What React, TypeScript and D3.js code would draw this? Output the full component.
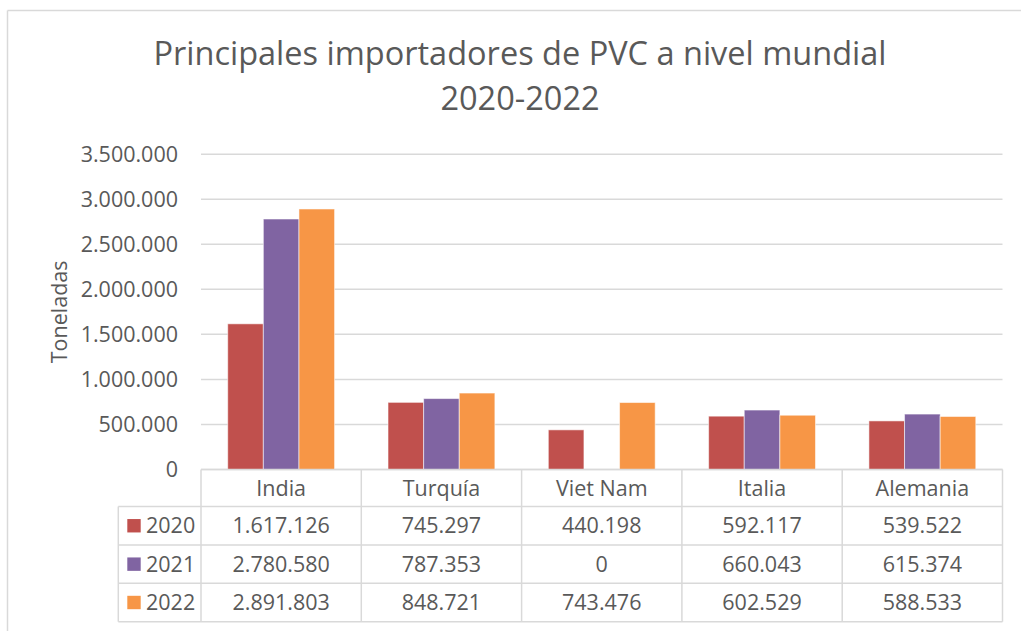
import React from "react";
import * as d3 from "d3";

const categories = ["India", "Turquía", "Viet Nam", "Italia", "Alemania"];
const seriesNames = ["2020", "2021", "2022"];
const values2020 = [1617126, 745297, 440198, 592117, 539522];
const values2021 = [2780580, 787353, 0, 660043, 615374];
const values2022 = [2891803, 848721, 743476, 602529, 588533];
const yTicks = [0, 500000, 1000000, 1500000, 2000000, 2500000, 3000000, 3500000];
const colors = ["#C0504D", "#8064A2", "#F79646"];
const titleLines = ["Principales importadores de PVC a nivel mundial", "2020-2022"];
const yTitle = "Toneladas";

const series = [values2020, values2021, values2022];

const locale = d3.formatLocale({ decimal: ",", thousands: ".", grouping: [3], currency: ["", ""] });
const fmt = locale.format(",d");

export default function App() {
  const W = 1021, H = 631;
  const plotL = 201, plotR = 1002.5, plotT = 154.2, plotB = 469.5;
  const font = "'Open Sans', sans-serif";
  const textColor = "#595959";
  const gridColor = "#d9d9d9";

  const y = d3.scaleLinear().domain([0, 3500000]).range([plotB, plotT]);
  const x0 = d3.scaleBand<string>().domain(categories).range([plotL, plotR]);
  const barW = x0.bandwidth() / (3 + 1.5);
  const x1 = d3.scaleBand<string>().domain(seriesNames).range([0, barW * 3]);

  const rowTops = [plotB, 506.5, 545, 583.3, 621.7];
  const fontSize = 21.5;

  return (
    <svg width={W} height={H} style={{ position: "absolute", left: 0, top: 0, background: "#fff" }}>
      <rect x={0} y={0} width={W} height={H} fill="#fff" />
      {/* outer chart border */}
      <line x1={7.5} y1={10.5} x2={W} y2={10.5} stroke={gridColor} strokeWidth={1.5} />
      <line x1={7.5} y1={10.5} x2={7.5} y2={H} stroke={gridColor} strokeWidth={1.5} />

      {/* title */}
      {titleLines.map((t, i) => (
        <text key={i} x={520} y={65 + i * 45} textAnchor="middle" fontFamily={font} fontSize={32.5} fill={textColor}>
          {t}
        </text>
      ))}

      {/* gridlines */}
      {yTicks.map((t) => (
        <line key={t} x1={plotL} x2={plotR} y1={y(t)} y2={y(t)} stroke={gridColor} strokeWidth={1.5} />
      ))}
      {/* y tick labels */}
      {yTicks.map((t) => (
        <text key={"l" + t} x={178} y={y(t)} dy="0.36em" textAnchor="end" fontFamily={font} fontSize={fontSize} fill={textColor}>
          {fmt(t)}
        </text>
      ))}
      {/* y title */}
      <text transform={`translate(67,${(plotT + plotB) / 2}) rotate(-90)`} textAnchor="middle" fontFamily={font} fontSize={fontSize} fill={textColor}>
        {yTitle}
      </text>

      {/* bars */}
      {categories.map((c, ci) => (
        <g key={c} transform={`translate(${(x0(c) as number) + (x0.bandwidth() - barW * 3) / 2},0)`}>
          {series.map((s, si) =>
            s[ci] > 0 ? (
              <rect
                key={si}
                x={x1(seriesNames[si]) as number}
                y={y(s[ci])}
                width={x1.bandwidth()}
                height={plotB - y(s[ci])}
                fill={colors[si]}
                stroke="#ffffff"
                strokeOpacity={0.55}
                strokeWidth={1}
              />
            ) : null
          )}
        </g>
      ))}

      {/* data table */}
      <g>
        <line x1={plotL} x2={plotR} y1={rowTops[0]} y2={rowTops[0]} stroke={gridColor} strokeWidth={1.5} />
        {rowTops.slice(1).map((ry, i) => (
          <line key={i} x1={118.3} x2={plotR} y1={ry} y2={ry} stroke={gridColor} strokeWidth={1.5} />
        ))}
        <line x1={118.3} x2={118.3} y1={rowTops[1]} y2={rowTops[4]} stroke={gridColor} strokeWidth={1.5} />
        {categories.map((c) => (
          <line key={c} x1={x0(c) as number} x2={x0(c) as number} y1={rowTops[0]} y2={rowTops[4]} stroke={gridColor} strokeWidth={1.5} />
        ))}
        <line x1={plotR} x2={plotR} y1={rowTops[0]} y2={rowTops[4]} stroke={gridColor} strokeWidth={1.5} />

        {categories.map((c) => (
          <text key={c} x={(x0(c) as number) + x0.bandwidth() / 2} y={(rowTops[0] + rowTops[1]) / 2} dy="0.36em" textAnchor="middle" fontFamily={font} fontSize={fontSize} fill={textColor}>
            {c}
          </text>
        ))}
        {series.map((s, si) => {
          const cy = (rowTops[si + 1] + rowTops[si + 2]) / 2;
          return (
            <g key={si}>
              <rect x={127.3} y={cy - 6.7} width={13.4} height={13.4} fill={colors[si]} />
              <text x={146} y={cy} dy="0.36em" fontFamily={font} fontSize={fontSize} fill={textColor}>
                {seriesNames[si]}
              </text>
              {categories.map((c, ci) => (
                <text key={c} x={(x0(c) as number) + x0.bandwidth() / 2} y={cy} dy="0.36em" textAnchor="middle" fontFamily={font} fontSize={fontSize} fill={textColor}>
                  {fmt(s[ci])}
                </text>
              ))}
            </g>
          );
        })}
      </g>
    </svg>
  );
}
